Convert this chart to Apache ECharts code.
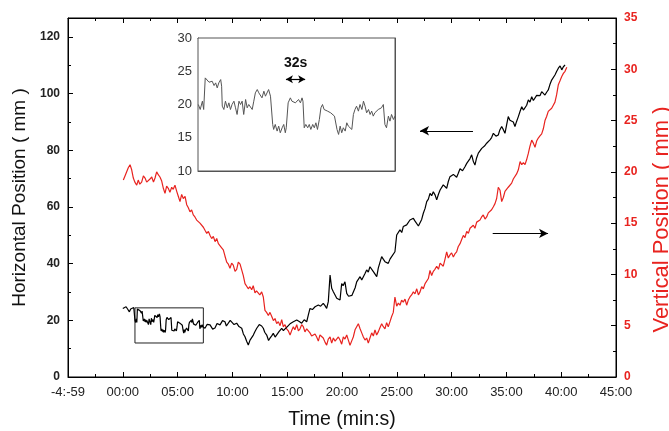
<!DOCTYPE html>
<html>
<head>
<meta charset="utf-8">
<script src="https://cdn.jsdelivr.net/npm/echarts@6/dist/echarts.min.js"></script>
<style>
html,body{margin:0;padding:0;background:#fff;}
#chart{width:669px;height:431px;}
</style>
</head>
<body>
<div id="chart"></div>
<script>
// ---- data (time in minutes, value in mm) ----
// Horizontal position (left axis), start segment
var hStart = [[0.0,24.2],[0.15,23.6],[0.3,24.8],[0.45,23.9],[0.6,23.0],[0.72,24.0],[0.85,23.6],[1.0,24.5]];
// Horizontal position inside the zoomed window (also drawn in the inset)
var hWindow = [
[1.11,20.0],[1.17,19.25],[1.24,20.5],[1.28,19.25],[1.31,19.5],[1.33,24.0],[1.39,23.75],[1.45,23.35],[1.50,23.25],[1.55,23.5],
[1.61,22.85],[1.66,23.25],[1.71,22.5],[1.76,23.25],[1.82,23.75],[1.85,22.75],[1.87,19.75],[1.92,19.25],[1.97,20.5],[2.03,19.5],
[2.08,20.25],[2.13,19.25],[2.18,20.0],[2.24,20.5],[2.29,19.5],[2.34,18.5],[2.40,20.5],[2.45,20.0],[2.50,20.5],[2.55,18.5],
[2.61,20.75],[2.66,19.5],[2.71,20.0],[2.76,20.25],[2.82,19.25],[2.87,20.5],[2.92,21.75],[2.98,22.25],[3.03,21.75],[3.08,22.0],
[3.13,21.0],[3.19,22.0],[3.24,21.25],[3.29,21.5],[3.34,22.25],[3.40,21.25],[3.43,21.0],[3.47,17.0],[3.50,16.25],[3.55,17.0],
[3.61,16.0],[3.66,16.75],[3.71,15.75],[3.77,16.5],[3.82,17.0],[3.87,15.75],[3.90,16.5],[3.96,20.25],[4.03,21.0],[4.08,20.5],
[4.14,20.75],[4.19,20.25],[4.24,20.5],[4.29,20.75],[4.35,20.25],[4.40,21.0],[4.43,20.5],[4.47,16.5],[4.52,17.0],[4.58,16.5],
[4.63,17.0],[4.68,16.25],[4.74,17.0],[4.79,16.5],[4.84,17.25],[4.89,16.25],[4.95,17.75],[5.00,19.5],[5.05,20.0],[5.10,19.25],
[5.15,19.5],[5.21,19.0],[5.26,19.25],[5.31,18.75],[5.37,19.0],[5.43,18.25],[5.47,18.5],[5.51,16.25],[5.56,15.5],[5.61,16.75],
[5.66,15.75],[5.71,16.5],[5.77,16.0],[5.82,17.25],[5.87,16.75],[5.92,17.0],[5.98,16.25],[6.03,18.5],[6.08,19.25],[6.13,19.75],
[6.19,19.0],[6.24,20.0],[6.30,19.25],[6.35,20.5],[6.40,19.75],[6.45,18.75],[6.51,19.25],[6.56,18.5],[6.61,19.0],[6.66,18.25],
[6.71,18.75],[6.77,18.5],[6.82,19.25],[6.87,19.0],[6.92,19.5],[6.98,20.0],[7.03,17.0],[7.08,16.5],[7.14,18.25],[7.19,17.5],
[7.24,18.5],[7.30,17.75],[7.35,18.25]];
// Horizontal position after the window
var hLate = [
[7.50,17.2],[7.7,18.6],[7.96,18.4],[8.2,16.9],[8.41,17.3],[8.6,18.9],[8.87,18.4],[9.1,19.9],[9.32,19.5],[9.45,18.0],[9.60,18.4],[9.8,20.0],[9.94,19.5],[10.15,18.5],[10.39,19.0],[10.6,17.8],[10.85,17.2],[11.0,15.2],[11.15,14.2],
[11.3,12.6],[11.45,11.3],[11.61,13.0],[11.75,12.4],[11.91,14.8],[12.05,16.0],[12.22,17.2],[12.45,18.5],[12.67,18.0],[12.82,17.2],[12.95,15.8],[13.13,14.8],[13.3,12.9],[13.43,13.7],[13.6,14.6],[13.73,15.4],[13.9,14.1],[14.04,14.8],
[14.25,16.0],[14.50,17.2],[14.65,16.4],[14.80,16.0],[14.95,17.5],[15.10,17.8],[15.3,18.9],[15.56,19.5],[15.7,18.8],[15.87,20.1],[16.1,19.6],[16.32,19.0],[16.55,20.2],[16.78,19.5],[16.93,21.9],[17.08,24.2],[17.3,23.8],[17.54,24.8],
[17.7,24.1],[17.84,25.4],[18.05,25.0],[18.29,26.0],[18.45,25.2],[18.60,24.2],[18.75,26.6],[18.91,36.0],[19.06,31.3],[19.21,30.1],[19.35,30.6],[19.52,27.8],[19.82,27.2],[19.97,33.0],
[20.1,32.2],[20.27,33.6],[20.43,29.5],[20.6,28.5],[20.73,27.8],[20.9,28.8],[21.03,29.5],[21.2,31.5],[21.34,33.6],[21.5,34.0],[21.65,35.4],[21.8,34.2],[21.95,34.8],[22.1,36.5],[22.25,37.8],[22.4,37.0],[22.55,38.9],[22.7,38.3],[22.86,37.2],
[23.0,36.6],[23.17,35.4],[23.31,38.4],[23.45,40.3],[23.62,42.5],[23.78,41.5],[23.92,40.7],[24.07,41.3],[24.22,40.1],[24.38,41.6],[24.53,42.5],[24.7,43.0],[24.83,44.2],[24.99,50.1],[25.15,50.8],[25.29,51.9],[25.45,51.0],[25.59,53.1],
[25.75,52.5],[25.90,53.7],[26.05,54.2],[26.20,55.4],[26.35,54.8],[26.51,56.0],[26.65,55.1],[26.82,54.8],[26.97,53.3],[27.12,53.7],[27.27,55.6],[27.42,57.8],[27.58,59.5],[27.73,61.9],[27.88,62.8],[28.03,64.8],[28.18,64.0],[28.33,65.4],[28.5,64.2],[28.64,62.5],
[28.8,64.5],[28.95,66.0],[29.1,66.4],[29.24,67.8],[29.4,67.2],[29.55,66.6],[29.7,69.0],[29.85,70.7],[30.0,70.0],[30.16,71.5],[30.3,71.9],[30.46,70.5],[30.6,71.8],[30.77,73.5],[31.0,72.8],[31.22,74.2],[31.38,75.4],[31.52,76.0],[31.68,77.1],[31.83,78.4],
[31.98,76.1],[32.13,74.8],[32.28,77.3],[32.44,79.0],[32.6,79.6],[32.75,80.7],[33.0,81.5],[33.20,82.5],[33.35,82.1],[33.50,83.7],[33.65,84.5],[33.81,86.0],[34.05,85.0],[34.26,85.4],[34.4,87.2],[34.57,88.4],[34.72,87.3],[34.87,86.0],[35.02,89.0],[35.17,91.9],
[35.32,90.6],[35.48,91.3],[35.63,90.0],[35.78,88.4],[35.93,90.2],[36.09,91.9],[36.25,93.8],[36.40,95.4],[36.55,94.2],[36.70,93.6],[36.85,95.9],[37.00,97.8],[37.15,97.0],[37.31,98.9],[37.46,97.6],[37.61,98.3],[37.76,99.4],[37.91,100.1],[38.06,99.3],[38.22,100.7],
[38.37,100.2],[38.52,99.5],[38.67,100.5],[38.82,101.3],[38.97,103.2],[39.13,104.8],[39.28,105.5],[39.43,106.6],[39.58,107.8],[39.74,109.0],[39.9,109.8],[40.05,108.4],[40.2,109.5],[40.35,110.1]];
// Vertical position (right axis)
var vert = [
[0.05,19.2],[0.2,19.6],[0.36,19.7],[0.5,20.4],[0.66,20.7],[0.81,20.2],[0.96,19.4],[1.1,19.0],[1.27,18.7],[1.41,19.2],[1.55,18.8],[1.72,19.0],[1.88,19.6],[2.03,19.4],[2.18,19.0],[2.33,18.9],
[2.48,19.3],[2.64,19.5],[2.8,19.0],[2.94,19.4],[3.09,20.0],[3.25,19.7],[3.39,19.5],[3.55,19.1],[3.70,18.4],[3.85,17.9],[4.0,18.6],[4.15,18.4],[4.3,18.0],[4.46,18.5],[4.6,18.3],[4.76,18.7],[4.92,18.1],
[5.07,17.6],[5.22,17.1],[5.37,17.8],[5.52,17.4],[5.68,17.6],[5.83,16.8],[5.98,16.5],[6.13,16.1],[6.28,16.3],[6.43,15.8],[6.58,15.6],[6.74,15.3],[6.9,15.4],[7.04,15.0],[7.2,14.9],[7.35,14.6],[7.5,14.3],[7.66,14.0],
[7.81,14.2],[7.96,13.8],[8.11,13.5],[8.26,13.7],[8.42,13.2],[8.57,13.5],[8.72,13.0],[8.87,12.9],[9.02,12.6],[9.17,12.4],[9.32,11.8],[9.48,11.2],[9.63,11.0],[9.78,10.6],[9.93,11.1],[10.08,10.9],[10.24,10.3],[10.39,10.5],[10.54,11.2],
[10.7,11.0],[10.85,10.9],[10.99,9.9],[11.15,9.1],[11.3,9.0],[11.45,8.6],[11.6,8.8],[11.76,8.5],[11.9,8.9],[12.06,8.2],[12.2,8.4],[12.36,8.5],[12.5,8.0],[12.67,8.3],[12.82,7.8],[12.97,6.5],
[13.12,6.3],[13.28,6.0],[13.43,6.3],[13.59,5.9],[13.74,5.5],[13.89,5.7],[14.04,5.2],[14.19,5.4],[14.35,5.0],[14.50,5.6],[14.64,4.9],[14.8,5.1],[14.95,4.7],[15.1,4.5],[15.26,4.1],[15.4,4.5],[15.56,4.9],[15.7,4.6],[15.87,5.1],
[16.02,4.5],[16.17,4.7],[16.32,5.1],[16.47,4.9],[16.62,4.4],[16.78,4.7],[16.93,4.6],[17.08,4.3],[17.23,4.0],[17.38,3.9],[17.54,4.2],[17.69,3.9],[17.84,3.5],[17.99,4.1],[18.14,4.0],[18.29,3.8],[18.45,3.4],[18.60,3.1],[18.75,3.7],[18.91,3.9],
[19.06,3.3],[19.21,3.8],[19.37,3.5],[19.52,3.4],[19.67,3.9],[19.82,3.6],[19.97,3.2],[20.12,3.9],[20.27,3.7],[20.43,4.1],[20.58,3.6],[20.73,3.1],[20.88,3.5],[21.03,3.9],[21.19,4.6],[21.34,4.9],[21.49,5.2],[21.65,4.7],[21.80,4.3],
[21.95,3.9],[22.10,3.6],[22.25,3.8],[22.40,3.3],[22.55,3.8],[22.71,4.3],[22.86,4.0],[23.01,4.6],[23.16,4.1],[23.31,4.4],[23.46,4.8],[23.62,5.2],[23.77,4.9],[23.92,4.7],[24.07,5.3],[24.22,4.9],[24.38,5.4],[24.53,5.9],[24.68,6.3],[24.83,7.8],
[24.99,6.9],[25.14,7.2],[25.29,7.0],[25.44,7.5],[25.59,7.3],[25.75,7.6],[25.90,7.0],[26.05,7.5],[26.20,7.8],[26.35,8.0],[26.51,8.3],[26.66,8.1],[26.82,8.6],[26.97,8.0],[27.12,8.3],[27.27,8.8],[27.42,8.6],[27.58,9.1],[27.73,9.0],[27.88,9.6],
[28.03,10.4],[28.18,9.9],[28.33,10.3],[28.48,10.5],[28.64,10.8],[28.8,10.5],[28.95,11.1],[29.1,11.0],[29.24,10.8],[29.4,11.5],[29.55,12.2],[29.7,11.6],[29.85,11.9],[30.0,12.1],[30.16,11.7],[30.3,12.0],[30.46,12.2],[30.6,12.7],[30.77,13.0],
[30.92,13.4],[31.07,13.8],[31.22,13.6],[31.38,14.2],[31.53,14.0],[31.68,14.5],[31.83,14.6],[31.98,14.8],[32.13,14.5],[32.29,15.1],[32.44,15.0],[32.59,15.3],[32.74,15.6],[32.89,15.8],[33.05,15.4],[33.20,15.6],[33.35,16.0],[33.50,16.1],[33.65,16.3],[33.81,16.6],
[33.96,16.9],[34.11,17.4],[34.26,18.5],[34.42,18.2],[34.57,17.1],[34.72,17.5],[34.87,18.1],[35.02,18.0],[35.17,18.5],[35.32,18.6],[35.48,18.9],[35.63,19.3],[35.78,19.4],[35.93,19.8],[36.09,20.2],[36.25,21.0],
[36.40,20.7],[36.55,20.9],[36.70,20.7],[36.85,21.2],[37.00,21.8],[37.15,22.5],[37.31,23.1],[37.46,22.8],[37.61,22.4],[37.76,23.0],[37.91,23.3],[38.06,23.5],[38.22,23.7],[38.37,24.2],[38.52,25.0],[38.67,25.4],[38.82,25.9],[38.97,25.8],[39.13,26.2],
[39.28,26.5],[39.43,26.8],[39.58,27.5],[39.74,28.5],[39.9,28.9],[40.05,29.3],[40.2,29.6],[40.35,29.8],[40.51,30.2]];

// Axis settings / annotations
var xTicks = {min:-5, max:45, step:5};
var leftTicks = {min:0, max:126.7, step:20};
var rightTicks = {min:0, max:35, step:5};
var insetX = {min:1.1, max:7.35, ticks:[1.91, 5.68]};
var insetY = {min:10, max:30, step:5};
var zoomBox = [[1.11, 12], [7.35, 24.4]];
var arrowLeft = [[31.95, 86.9], [27.12, 86.9]];
var arrowRight = [[33.75, 14.0], [38.8, 14.0]];
var arrow32s = [[3.89, 23.8], [4.50, 23.8]];

var FONT = '"Liberation Sans", Arial, sans-serif';
var RED = '#e8231f';

function pad(n){ n = Math.abs(n); return (n < 10 ? '0' : '') + n; }
function timeFmt(v){
  if (v < 0) return '-4:-59';
  return pad(v) + ':00';
}

var chart = echarts.init(document.getElementById('chart'), null, {renderer:'canvas'});
function mainLine(){ return {show:true, onZero:false, lineStyle:{color:'#000', width:1}}; }
function mainTick(){ return {show:true, inside:true, length:5, lineStyle:{color:'#000', width:1}}; }
function mainMinor(){ return {show:true, splitNumber:2, length:3, lineStyle:{color:'#000', width:1}}; }
function insetLine(){ return {show:true, onZero:false, lineStyle:{color:'#555', width:1}}; }
function insetTick(extra){
  var o = {show:true, inside:true, length:3, lineStyle:{color:'#555', width:1}};
  if (extra) o.customValues = extra;
  return o;
}
function insetMinor(){ return {show:true, splitNumber:2, length:3, lineStyle:{color:'#555', width:1}}; }

var option = {
  animation:false,
  backgroundColor:'#fff',
  textStyle:{fontFamily:FONT},
  grid:[
    {left:68, right:53, top:18, bottom:54, containLabel:false, outerBoundsMode:'none',
     show:true, borderColor:'#000', borderWidth:1, backgroundColor:'rgba(0,0,0,0)'},
    {left:198, top:38, width:197, height:133, z:5, containLabel:false, outerBoundsMode:'none',
     show:true, backgroundColor:'#fff', borderColor:'#555', borderWidth:1}
  ],
  xAxis:[
    {gridIndex:0, type:'value', position:'bottom', min:xTicks.min, max:xTicks.max, interval:xTicks.step,
     axisLine:mainLine(), axisTick:mainTick(), minorTick:mainMinor(), splitLine:{show:false},
     axisLabel:{formatter:timeFmt, color:'#222', fontSize:13, margin:9, fontFamily:FONT},
     name:'Time (min:s)', nameLocation:'middle', nameGap:33,
     nameTextStyle:{fontSize:19.5, color:'#111', fontFamily:FONT}},
    {gridIndex:0, type:'value', position:'top', min:xTicks.min, max:xTicks.max, interval:xTicks.step,
     axisLine:mainLine(), axisTick:mainTick(), minorTick:mainMinor(), splitLine:{show:false},
     axisLabel:{show:false}},
    {gridIndex:1, type:'value', position:'bottom', min:insetX.min, max:insetX.max,
     axisLine:insetLine(), axisTick:insetTick(insetX.ticks), splitLine:{show:false},
     axisLabel:{show:false}},
    {gridIndex:1, type:'value', position:'top', min:insetX.min, max:insetX.max,
     axisLine:insetLine(), axisTick:insetTick(insetX.ticks), splitLine:{show:false},
     axisLabel:{show:false}}
  ],
  yAxis:[
    {gridIndex:0, type:'value', position:'left', min:leftTicks.min, max:leftTicks.max, interval:leftTicks.step,
     axisLine:mainLine(), axisTick:mainTick(), minorTick:mainMinor(), splitLine:{show:false},
     axisLabel:{color:'#222', fontSize:12, fontWeight:'bold', margin:8, fontFamily:FONT,
       formatter:function(v){ return (Math.abs(v % 20) < 1e-6) ? String(v) : ''; }},
     name:'Horizontal Position ( mm )', nameLocation:'middle', nameGap:39,
     nameTextStyle:{fontSize:19, color:'#111', fontFamily:FONT}},
    {gridIndex:0, type:'value', position:'right', min:rightTicks.min, max:rightTicks.max, interval:rightTicks.step,
     axisLine:mainLine(), axisTick:mainTick(), minorTick:mainMinor(), splitLine:{show:false},
     axisLabel:{color:RED, fontSize:12, fontWeight:'bold', margin:8, fontFamily:FONT},
     name:'Vertical Position ( mm )', nameLocation:'middle', nameGap:35, nameRotate:90,
     nameTextStyle:{fontSize:22, color:RED, fontFamily:FONT, padding:[0, 44, 0, 0]}},
    {gridIndex:1, type:'value', position:'left', min:insetY.min, max:insetY.max, interval:insetY.step,
     axisLine:insetLine(), axisTick:insetTick(), minorTick:insetMinor(), splitLine:{show:false},
     axisLabel:{color:'#333', fontSize:13, margin:6, fontFamily:FONT}},
    {gridIndex:1, type:'value', position:'right', min:insetY.min, max:insetY.max, interval:insetY.step,
     axisLine:insetLine(), axisTick:insetTick(), minorTick:insetMinor(), splitLine:{show:false},
     axisLabel:{show:false}}
  ],
  series:[
    {type:'line', name:'Horizontal', xAxisIndex:0, yAxisIndex:0, showSymbol:false, symbol:'none',
     data:hStart.concat(hWindow, hLate), lineStyle:{color:'#000', width:1.2}, z:3,
     markArea:{silent:true, itemStyle:{color:'rgba(0,0,0,0)', borderColor:'#222', borderWidth:1},
       data:[[{coord:zoomBox[0]}, {coord:zoomBox[1]}]]},
     markLine:{silent:true, symbol:['none','arrow'], symbolSize:[7,9], label:{show:false},
       lineStyle:{color:'#000', width:1.2, type:'solid'},
       data:[[{coord:arrowLeft[0]}, {coord:arrowLeft[1]}]]}},
    {type:'line', name:'Vertical', xAxisIndex:0, yAxisIndex:1, showSymbol:false, symbol:'none',
     data:vert, lineStyle:{color:RED, width:1.2}, z:2,
     markLine:{silent:true, symbol:['none','arrow'], symbolSize:[7,9], label:{show:false},
       lineStyle:{color:'#000', width:1.2, type:'solid'},
       data:[[{coord:arrowRight[0]}, {coord:arrowRight[1]}]]}},
    {type:'line', name:'Inset', xAxisIndex:2, yAxisIndex:2, showSymbol:false, symbol:'none',
     data:hWindow, lineStyle:{color:'#555', width:1}, z:6,
     markLine:{silent:true, symbol:['arrow','arrow'], symbolSize:[6,7],
       lineStyle:{color:'#000', width:1.2, type:'solid'},
       label:{show:true, position:'insideMiddleTop', formatter:'32s', distance:9,
         fontSize:14, fontWeight:'bold', color:'#111', fontFamily:FONT},
       data:[[{coord:arrow32s[0]}, {coord:arrow32s[1]}]]}}
  ]
};
chart.setOption(option);
</script>
</body>
</html>
